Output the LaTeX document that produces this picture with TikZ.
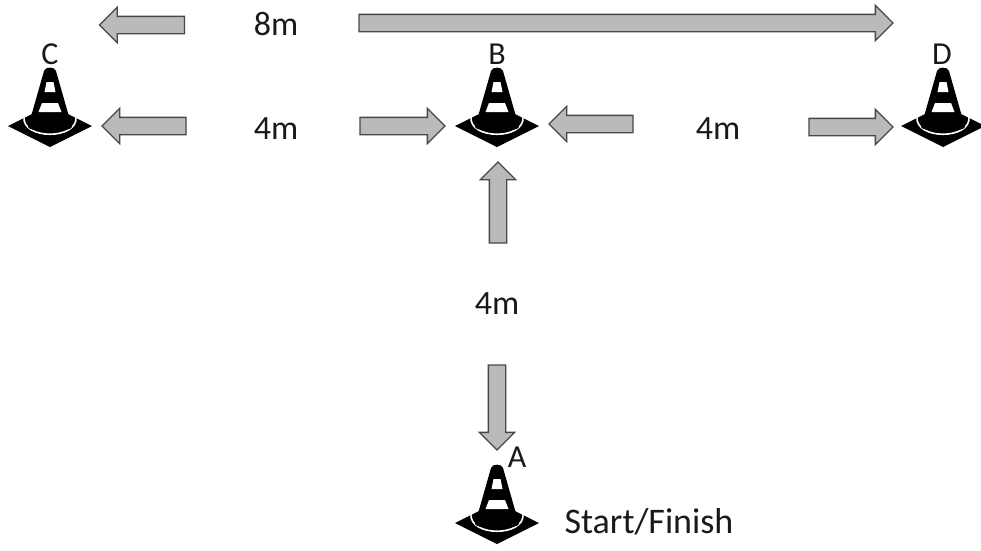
\documentclass[tikz,border=0pt]{standalone}
\usepackage{fontspec}
\setmainfont{Carlito}
\usetikzlibrary{shapes.arrows}

\begin{document}
\begin{tikzpicture}[x=1pt,y=1pt,
    blockarrow/.style={single arrow, draw=black!72, fill=black!27, line width=1.3pt,
      inner xsep=0pt, inner ysep=8pt, outer sep=0pt, minimum width=34pt,
      single arrow head extend=9pt, anchor=tail},
    uparrow/.style={blockarrow, inner xsep=8pt, inner ysep=0pt},
    lbl/.style={font=\fontsize{32}{32}\selectfont, text=black!90, inner sep=0pt},
    dist/.style={font=\fontsize{34}{34}\selectfont, text=black!90, inner sep=0pt},
    cone/.pic={
      \fill[black] (-42,0) -- (0,21) -- (42,0) -- (0,-21) -- cycle;
      \draw[white,line width=1.6pt] (-26,9) .. controls (-28,-14) and (28,-14) .. (26,9);
      \fill[black] (-22,-1) -- (-6,55) .. controls (-5,59.5) and (5,59.5) .. (6,55)
        -- (22,-1) .. controls (22,-6) and (-22,-6) .. (-22,-1) -- cycle;
      \fill[white] (-3.5,44) -- (3.5,44) -- (5.5,34) -- (-5.5,34) -- cycle;
      \fill[white] (-8,23) -- (8,23) -- (11.5,14) -- (-11.5,14) -- cycle;
    }]
    \useasboundingbox (0,0) rectangle (981,-550);
    \pic (coneC) at (50,-126) {cone};
    \pic (coneB) at (497,-126) {cone};
    \pic (coneD) at (943,-126) {cone};
    \pic (coneA) at (497,-523) {cone};
    \node[lbl] (labelC) at (50,-54) {C};
    \node[lbl] (labelB) at (497,-54) {B};
    \node[lbl] (labelD) at (942,-54) {D};
    \node[lbl] (labelA) at (517,-457) {A};
    \node[dist] (eightM) at (276,-24) {8m};
    \node[dist] (fourCB) at (276,-129) {4m};
    \node[dist] (fourBD) at (718,-129) {4m};
    \node[dist] (fourAB) at (497,-304) {4m};
    \node[dist,font=\fontsize{36}{36}\selectfont] (start) at (649,-522) {Start/Finish};
    \node[blockarrow,shape border rotate=180,minimum height=85pt] (eightLeft) at (184.5,-25) {};
    \node[blockarrow,minimum height=534pt] (eightRight) at (359,-23) {};
    \node[blockarrow,shape border rotate=180,minimum height=84pt] (fourCleft) at (186,-126) {};
    \node[blockarrow,minimum height=85pt] (fourBright) at (360,-126) {};
    \node[blockarrow,shape border rotate=180,minimum height=84pt] (fourBleft) at (633,-124) {};
    \node[blockarrow,minimum height=84pt] (fourDright) at (809,-127) {};
    \node[uparrow,shape border rotate=90,minimum height=81pt] (fourUp) at (498,-243) {};
    \node[uparrow,shape border rotate=270,minimum height=85pt] (fourDown) at (497,-365) {};
\end{tikzpicture}
\end{document}
